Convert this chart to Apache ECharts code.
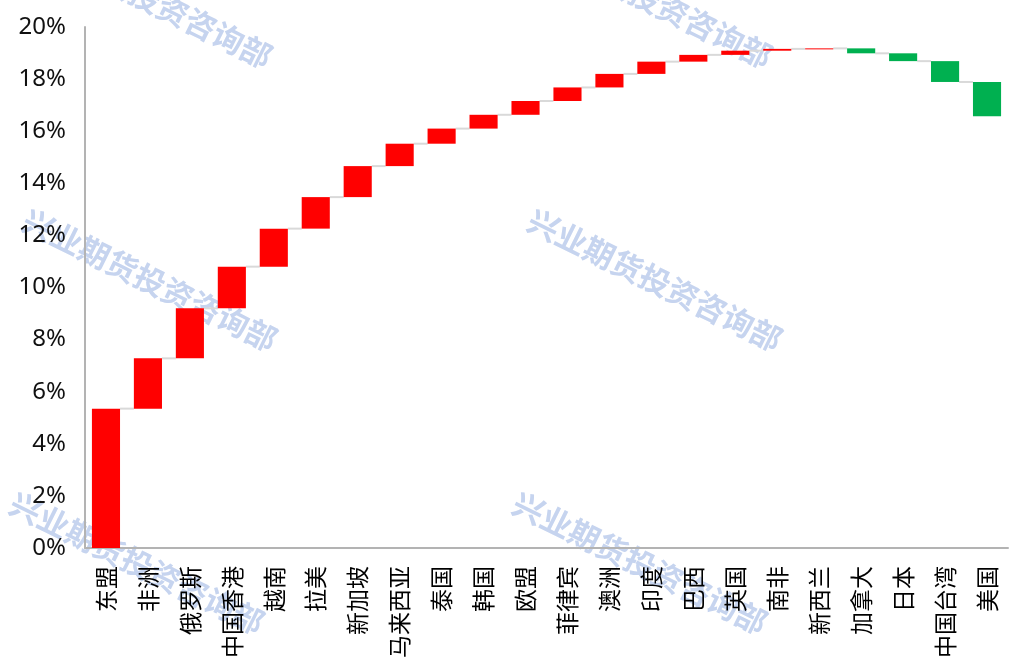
<!DOCTYPE html>
<html>
<head>
<meta charset="utf-8">
<script src="https://cdn.jsdelivr.net/npm/echarts@6/dist/echarts.min.js"></script>
<style>
  html, body { margin: 0; padding: 0; background: #ffffff; }
  #chart { width: 1013px; height: 670px; }
</style>
</head>
<body>
<div id="chart"></div>
<script>
// Regions in order of contribution
const categories = ['东盟', '非洲', '俄罗斯', '中国香港', '越南', '拉美', '新加坡', '马来西亚', '泰国', '韩国', '欧盟',
  '菲律宾', '澳洲', '印度', '巴西', '英国', '南非', '新西兰', '加拿大', '日本', '中国台湾', '美国'];

// Contribution of each region (percentage points)
const contributions = [5.35, 1.93, 1.92, 1.60, 1.46, 1.21, 1.19, 0.86, 0.58, 0.53, 0.53,
  0.52, 0.52, 0.47, 0.26, 0.16, 0.07, 0.02, -0.19, -0.30, -0.80, -1.32];

// Y-axis ticks (percent)
const yTicks = [0, 2, 4, 6, 8, 10, 12, 14, 16, 18, 20];

const watermarkText = '兴业期货投资咨询部';
const watermarkCenters = [[145, -3], [645, -3], [150, 280], [655, 280], [137, 563], [640, 563]];

// Running totals: each bar spans from the previous total to the new one
const waterfall = [];
let running = 0;
contributions.forEach((c, i) => {
  const start = running;
  running = +(running + c).toFixed(4);
  waterfall.push([i, start, running]);
});

const RED = '#ff0000';
const GREEN = '#00b050';

const chart = echarts.init(document.getElementById('chart'), null, { renderer: 'canvas' });

chart.setOption({
  animation: false,
  graphic: watermarkCenters.map(([x, y]) => ({
    type: 'text',
    x: x,
    y: y,
    rotation: -0.46,
    z: -10,
    silent: true,
    style: {
      text: watermarkText,
      fill: '#c6d4ef',
      font: 'bold 31px "Noto Sans CJK SC"',
      align: 'center',
      verticalAlign: 'middle'
    }
  })),
  grid: { left: 85, right: 5, top: 27, bottom: 122, containLabel: false },
  xAxis: {
    type: 'category',
    data: categories,
    boundaryGap: true,
    axisLine: { show: true, lineStyle: { color: '#b3b3b3', width: 2 } },
    axisTick: { show: false },
    axisLabel: {
      interval: 0,
      rotate: 90,
      margin: 18,
      color: '#000000',
      fontFamily: '"Noto Sans CJK SC"',
      fontSize: 23
    }
  },
  yAxis: {
    type: 'value',
    min: yTicks[0],
    max: yTicks[yTicks.length - 1],
    interval: yTicks[1] - yTicks[0],
    axisLine: { show: true, lineStyle: { color: '#b3b3b3', width: 2 } },
    axisTick: { show: false },
    splitLine: { show: false },
    axisLabel: {
      margin: 19,
      color: '#111111',
      fontFamily: '"Noto Sans"',
      fontSize: 24,
      formatter: '{value}%'
    }
  },
  series: [{
    type: 'custom',
    data: waterfall,
    encode: { x: 0, y: [1, 2] },
    z: 2,
    renderItem: (params, api) => {
      const i = api.value(0);
      const start = api.value(1);
      const end = api.value(2);
      const band = api.size([1, 0])[0];
      const bw = band * 0.67;
      const pStart = api.coord([i, start]);
      const pEnd = api.coord([i, end]);
      const x0 = pStart[0] - bw / 2;
      const top = Math.min(pStart[1], pEnd[1]);
      const h = Math.max(Math.abs(pStart[1] - pEnd[1]), 1);
      const children = [{
        type: 'rect',
        shape: { x: x0, y: top, width: bw, height: h },
        style: { fill: end >= start ? RED : GREEN }
      }];
      if (i < waterfall.length - 1) {
        children.push({
          type: 'line',
          z2: -1,
          shape: { x1: x0 + bw, y1: pEnd[1], x2: x0 + band, y2: pEnd[1] },
          style: { stroke: '#d9d9d9', lineWidth: 2 }
        });
      }
      return { type: 'group', children: children };
    }
  }]
});
</script>
</body>
</html>
